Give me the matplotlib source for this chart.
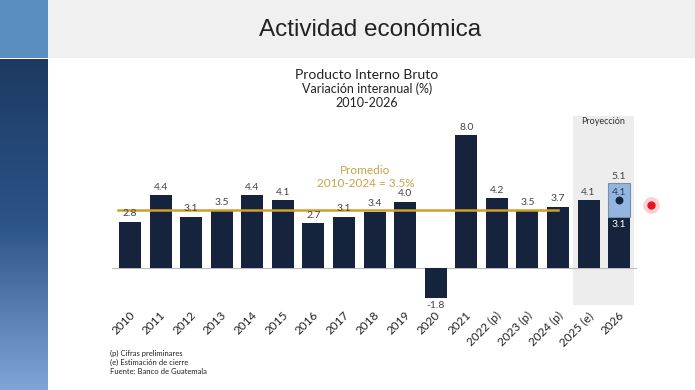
import numpy as np
import matplotlib.pyplot as plt
from matplotlib.patches import Rectangle
from matplotlib.lines import Line2D
from matplotlib.colors import LinearSegmentedColormap

# data
years = ['2010', '2011', '2012', '2013', '2014', '2015', '2016', '2017', '2018',
         '2019', '2020', '2021', '2022 (p)', '2023 (p)', '2024 (p)', '2025 (e)', '2026']
gdp = [2.8, 4.4, 3.1, 3.5, 4.4, 4.1, 2.7, 3.1, 3.4, 4.0, -1.8, 8.0, 4.2, 3.5, 3.7, 4.1, 3.1]
range_2026 = [3.1, 5.1]   # low / high of the 2026 projection
mid_2026 = 4.1
promedio = 3.5

W, H = 695, 390
NAVY = '#15243c'
GOLD = '#d09e2c'
plt.rcParams['font.family'] = ['Lato', 'DejaVu Sans']

fig = plt.figure(figsize=(W / 100, H / 100), dpi=100)
fig.patch.set_facecolor('white')

# slide decoration
fig.add_artist(Rectangle((48 / W, 1 - 58 / H), 1, 58 / H, transform=fig.transFigure,
                         facecolor='#f0f0f0', edgecolor='none'))
fig.add_artist(Rectangle((0, 1 - 58 / H), 48 / W, 58 / H, transform=fig.transFigure,
                         facecolor='#5b8ec0', edgecolor='none'))
gax = fig.add_axes([0, 0, 48 / W, 1 - 59 / H])
cmap = LinearSegmentedColormap.from_list('strip', ['#1d3a62', '#2b5488', '#7ea5d4'])
gax.imshow(np.linspace(0, 1, 200).reshape(-1, 1), aspect='auto', cmap=cmap)
gax.axis('off')

fig.text(370 / W, 1 - 30 / H, 'Actividad económica', family='Liberation Sans',
         fontsize=17.5, color='#222222', ha='center', va='center')

# chart titles
fig.text(367 / W, 1 - 75 / H, 'Producto Interno Bruto', fontsize=10, color='#222222',
         ha='center', va='center')
fig.text(367 / W, 1 - 89 / H, 'Variación interanual (%)', fontsize=9, color='#222222',
         ha='center', va='center')
fig.text(367 / W, 1 - 103 / H, '2010-2026', fontsize=9, color='#222222',
         ha='center', va='center')

ax = fig.add_axes([102.5 / W, 1 - 309.5 / H, 538 / W, 199.2 / H])
ax.set_xlim(-0.9, 16.7)
ax.set_ylim(-2.5, 9.5)
ax.axis('off')

x = np.arange(len(years))

# projection shading
ax.add_patch(Rectangle((14.48, -2.2), 2.02, 11.35, facecolor='#ededed',
                       edgecolor='none', zorder=0))
ax.text(15.49, 8.8, 'Proyección', fontsize=6.5, color='#333333', ha='center', va='center')

ax.plot([-0.6, 16.55], [0, 0], color='#bdbdbd', lw=0.8, zorder=1)

ax.bar(x, gdp, width=0.72, color=NAVY, zorder=2)
ax.bar(x[-1], range_2026[1] - range_2026[0], bottom=range_2026[0], width=0.72,
       color='#92b6df', edgecolor='#7b8ea3', lw=0.8, zorder=2)
ax.scatter([x[-1]], [mid_2026], s=22, color=NAVY, zorder=4)

for i, v in enumerate(gdp[:-1]):
    if v >= 0:
        ax.text(i, v + 0.2, f'{v:.1f}', fontsize=7.5, color='#444444',
                ha='center', va='bottom', zorder=5)
    else:
        ax.text(i, v - 0.2, f'{v:.1f}', fontsize=7.5, color='#444444',
                ha='center', va='top', zorder=5)
ax.text(x[-1], range_2026[1] + 0.15, f'{range_2026[1]:.1f}', fontsize=7.5,
        color='#444444', ha='center', va='bottom', zorder=5)
ax.text(x[-1], mid_2026 + 0.45, f'{mid_2026:.1f}', fontsize=7.5, color='#2d3e5c',
        ha='center', va='center', zorder=5)
ax.text(x[-1], range_2026[0] - 0.45, f'{range_2026[0]:.1f}', fontsize=7.5,
        color='white', ha='center', va='center', zorder=5)

# average line
ax.plot([-0.4, 14], [promedio, promedio], color=GOLD, lw=1.8, zorder=3)
ax.text(7.7, 5.9, 'Promedio', fontsize=8.5, color='#c4a446', ha='center', va='center')
ax.text(7.7, 5.1, f'2010-2024 = {promedio}%', fontsize=8.5, color='#c4a446',
        ha='center', va='center')

# rotated year labels
for i, lab in enumerate(years):
    ax.text(i + 0.1, -2.75, lab, fontsize=8.5, color='#222222', rotation=45,
            rotation_mode='anchor', ha='right', va='center')

notes = ['(p) Cifras preliminares', '(e) Estimación de cierre', 'Fuente: Banco de Guatemala']
for k, t in enumerate(notes):
    fig.text(110 / W, 1 - (353 + k * 9) / H, t, fontsize=5.5, color='#222222',
             ha='left', va='center')

# laser pointer dot
fig.add_artist(Line2D([651 / W], [1 - 205 / H], transform=fig.transFigure, marker='o',
                      markersize=11, color='#ffc4c4', alpha=0.7, linestyle='none'))
fig.add_artist(Line2D([651 / W], [1 - 205 / H], transform=fig.transFigure, marker='o',
                      markersize=5, color='#e8141c', linestyle='none'))

fig.savefig('out.png', dpi=100)
